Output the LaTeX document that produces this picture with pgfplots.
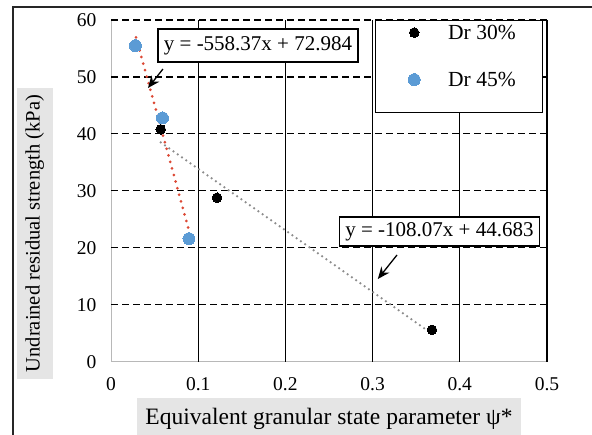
\documentclass[border=0pt]{standalone}
\usepackage{pgfplots}
\pgfplotsset{compat=1.18}
\usetikzlibrary{arrows.meta}
\usepackage{fontspec}
\setmainfont{Liberation Serif}
\definecolor{dblue}{RGB}{91,155,213}
\definecolor{tred}{RGB}{220,72,52}
\definecolor{tgray}{RGB}{140,140,140}
\begin{document}
\begin{tikzpicture}[font=\fontsize{20.5}{24}\selectfont]
\path[use as bounding box, clip] (0,0) rectangle (592pt,434pt);
\draw[line width=1.3pt, black!85] (13pt,-20pt) |- (620pt,427pt);
\begin{axis}[
  at={(111pt,72.3pt)}, anchor=south west,
  width=436pt, height=341.7pt, scale only axis,
  xmin=0, xmax=0.5, ymin=0, ymax=60,
  xtick={0,0.1,0.2,0.3,0.4,0.5}, ytick={0,10,20,30,40,50,60},
  xticklabels={0,0.1,0.2,0.3,0.4,0.5},
  major tick length=0pt,
  /pgf/number format/assume math mode=true,
  tick label style={font=\fontsize{19.5}{23}\selectfont},
  xticklabel style={yshift=-12pt},
  yticklabel style={xshift=-11pt},
  extra x ticks={0.1,0.2,0.3,0.4,0.5}, extra x tick labels={},
  extra y ticks={10,20,30,40,50,60}, extra y tick labels={},
  extra x tick style={grid=major, major tick length=0pt},
  extra y tick style={grid=major, major tick length=0pt},
  x grid style={black, line width=1.2pt},
  y grid style={black, line width=1.1pt, dash pattern=on 7pt off 4pt},
  axis x line*=bottom, axis y line*=left,
  axis line style={draw=black!28, line width=1pt},
  xlabel={Equivalent granular state parameter ψ*},
  ylabel={Undrained residual strength (kPa)},
  xlabel style={at={(axis description cs:0.5,-0.1063)}, anchor=north, fill=black!10,
    font=\fontsize{23.5}{27}\selectfont,
    inner xsep=8pt, inner ysep=10pt, text height=16pt, text depth=6pt},
  ylabel style={at={(axis description cs:-0.1743,0.375)}, anchor=center, fill=black!10,
    inner xsep=7pt, inner ysep=8.5pt, text height=14pt, text depth=5pt},
  legend style={at={(rel axis cs:0.9915,1)}, anchor=north east, draw=black, line width=1.2pt,
    fill=white, inner xsep=27pt, inner ysep=7pt, row sep=15pt, column sep=28pt,
    nodes={inner sep=0pt, text height=12pt, text depth=19pt, anchor=base west},
    font=\fontsize{21.5}{25}\selectfont},
  legend image code/.code={\path (0pt,0pt); \draw plot coordinates {(11pt,7pt)};},
]
\addplot[only marks, mark=*, mark size=4.8pt, black, mark options={line width=0pt}]
  coordinates {(0.057,40.8) (0.1216,28.8) (0.368,5.6)};
\addlegendentry{Dr 30\%}
\addplot[only marks, mark=*, mark size=6pt, dblue, mark options={line width=0pt}]
  coordinates {(0.028,55.5) (0.059,42.8) (0.0894,21.6)};
\addlegendentry{Dr 45\%}
\addplot[forget plot, tred, line width=3pt, line cap=round, dash pattern=on 0pt off 6.8pt]
  coordinates {(0.0287,56.96) (0.0894,23.07)};
\addplot[forget plot, tgray, line width=2.5pt, line cap=round, dash pattern=on 0pt off 5.2pt]
  coordinates {(0.057,38.52) (0.368,4.91)};
\draw[line width=1.3pt, -{Stealth[length=12pt,width=10pt]}] (axis cs:0.0596,51.4) -- (axis cs:0.0424,48.06);
\draw[line width=1.3pt, -{Stealth[length=12pt,width=10pt]}] (axis cs:0.328,18.74) -- (axis cs:0.306,14.52);
\node[draw=black, line width=1.3pt, fill=white, font=\fontsize{21}{25}\selectfont, inner xsep=6pt, inner ysep=7pt, text height=14pt, text depth=5pt]
  at (axis cs:0.1686,55.52) {y = -558.37x + 72.984};
\node[draw=black, line width=1.3pt, fill=white, font=\fontsize{21}{25}\selectfont, inner xsep=6pt, inner ysep=5pt, text height=14pt, text depth=5pt]
  at (axis cs:0.3767,22.86) {y = -108.07x + 44.683};
\end{axis}
\end{tikzpicture}
\end{document}
